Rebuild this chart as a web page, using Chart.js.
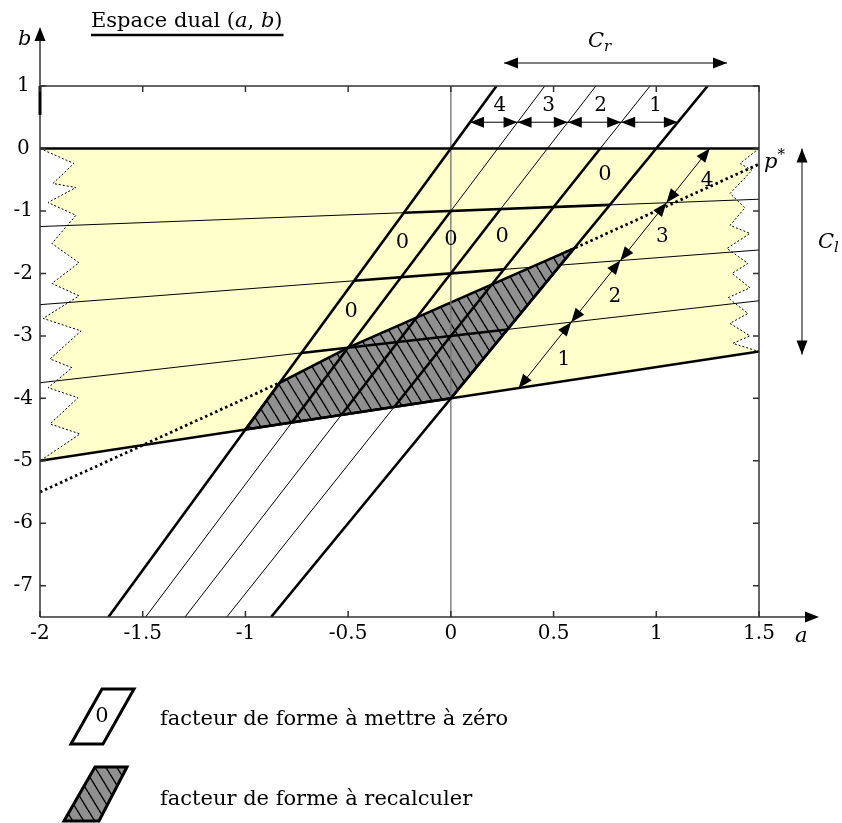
<!DOCTYPE html>
<html>
<head>
<meta charset="utf-8">
<script src="https://cdn.jsdelivr.net/npm/chart.js@4.4.1/dist/chart.umd.min.js"></script>
<style>
  html, body { margin: 0; padding: 0; background: #fff; }
</style>
</head>
<body>
<canvas id="grafico" width="842" height="823"></canvas>
<script>
// droites de l'espace dual : b = pente * a + ordonnee
const pentesObliques = [4.5, 4.375, 4.25, 4.125, 4]
const ordonneesObliques = [0, -1, -2, -3, -4]
const pentesFaisceau = [0, 0.125, 0.25, 0.375, 0.5]
const ordonneesFaisceau = [0, -1, -2, -3, -4]
const penteP = 1.5
const ordonneeP = -2.5

const ticksA = [-2, -1.5, -1, -0.5, 0, 0.5, 1, 1.5]
const ticksB = [1, 0, -1, -2, -3, -4, -5, -6, -7]

// cellules [oblique, faisceau] marquées 0
const cellulesZero = [[3, 0], [0, 1], [1, 1], [2, 1], [0, 2]]
// segments épais : [oblique, faisceau début, faisceau fin]
const obliquesEpais = [[1, 4, 1], [2, 4, 1], [3, 4, 0]]
// segments épais : [faisceau, oblique début, oblique fin]
const faisceauEpais = [[1, 0, 4], [2, 0, 3], [3, 0, 4]]

// zigzags : écart en a depuis le bord, et b
const zigGaucheDa = [0, 0.165, 0.063, 0.175, 0.039, 0.175, 0.058, 0.19, 0.058, 0.19, 0.015, 0.2, 0.049, 0.156, 0.039, 0.185, 0.049, 0.195, 0]
const zigGaucheB = [0, -0.24, -0.56, -0.625, -0.865, -1.07, -1.52, -1.83, -2.16, -2.36, -2.72, -2.92, -3.37, -3.51, -3.83, -3.99, -4.41, -4.57, -5]
const zigDroitDa = [0, -0.092, -0.034, -0.141, -0.068, -0.141, -0.044, -0.156, -0.054, -0.131, -0.044, -0.151, -0.054, -0.141, -0.044, -0.127, 0]
const zigDroitB = [0, -0.24, -0.35, -0.72, -0.95, -1.23, -1.36, -1.6, -1.84, -2.0, -2.23, -2.39, -2.64, -2.8, -3.0, -3.12, -3.25]

// chaîne de flèches 1..4 : a du pied (sur le faisceau 4) et de la tête (sur le faisceau 0)
const chaineA = [0.33, 1.26]
const bCotesHaut = 0.42
const aMin = -2, aMax = 1.5, bMin = -7.5, bMax = 1

function aSurOblique(i, b) { return (b - ordonneesObliques[i]) / pentesObliques[i] }
function bSurFaisceau(j, a) { return pentesFaisceau[j] * a + ordonneesFaisceau[j] }
function interOF(i, j) {
    const a = (ordonneesFaisceau[j] - ordonneesObliques[i]) / (pentesObliques[i] - pentesFaisceau[j])
    return [a, pentesObliques[i] * a + ordonneesObliques[i]]
}
function interOP(i) {
    const a = (ordonneeP - ordonneesObliques[i]) / (pentesObliques[i] - penteP)
    return [a, penteP * a + ordonneeP]
}

const canvas = document.getElementById('grafico')
const ctx = canvas.getContext('2d')

function motifHachure() {
    const c = document.createElement('canvas')
    c.width = 11
    c.height = 18
    const g = c.getContext('2d')
    g.fillStyle = '#909090'
    g.fillRect(0, 0, 11, 18)
    g.strokeStyle = '#000'
    g.lineWidth = 1.4
    for (const dx of [-11, 0, 11]) {
        g.beginPath()
        g.moveTo(dx, 0)
        g.lineTo(dx + 11, 18)
        g.stroke()
    }
    return ctx.createPattern(c, 'repeat')
}

const datasets = []
function ajoute(points, opts) {
    datasets.push(Object.assign({
        data: points.map(p => ({ x: p[0], y: p[1] })),
        showLine: true,
        pointRadius: 0,
        borderColor: '#000',
        borderWidth: 1,
        fill: false
    }, opts))
}

// zone jaune
const jaune = [[aMin, 0], [aMax, 0]]
zigDroitDa.forEach((d, k) => jaune.push([aMax + d, zigDroitB[k]]))
for (let k = zigGaucheDa.length - 1; k >= 0; k--) jaune.push([aMin + zigGaucheDa[k], zigGaucheB[k]])
ajoute(jaune, { borderWidth: 0, backgroundColor: 'rgb(255,255,204)', fill: 'shape', order: 7 })
ajoute(zigGaucheDa.map((d, k) => [aMin + d, zigGaucheB[k]]), { borderDash: [2, 2], order: 6 })
ajoute(zigDroitDa.map((d, k) => [aMax + d, zigDroitB[k]]), { borderDash: [2, 2], order: 6 })

// droites fines
for (let i = 0; i < 5; i++) ajoute([[aSurOblique(i, bMin), bMin], [aSurOblique(i, bMax), bMax]], { order: 5 })
for (let j = 1; j < 4; j++) ajoute([[aMin, bSurFaisceau(j, aMin)], [aMax, bSurFaisceau(j, aMax)]], { order: 5 })

// droite p*
ajoute([[aMin, penteP * aMin + ordonneeP], [aMax, penteP * aMax + ordonneeP]], { borderWidth: 2.8, borderDash: [2.5, 3], order: 4 })

// zone hachurée
const zoneH = [interOF(0, 4), interOP(0), interOF(1, 3), interOP(4), interOF(4, 4), interOF(0, 4)]
ajoute(zoneH, { borderWidth: 2.6, backgroundColor: motifHachure(), fill: 'shape', order: 3 })

// axe a = 0
ajoute([[0, bMin], [0, bMax]], { borderColor: '#6f6f6f', borderWidth: 1.3, order: 2 })

// droites épaisses
const epais = { borderWidth: 2.6, order: 1 }
for (const i of [0, 4]) ajoute([[aSurOblique(i, bMin), bMin], [aSurOblique(i, bMax), bMax]], epais)
for (const j of [0, 4]) ajoute([[aMin, bSurFaisceau(j, aMin)], [aMax, bSurFaisceau(j, aMax)]], epais)
obliquesEpais.forEach(([i, j1, j2]) => ajoute([interOF(i, j1), interOF(i, j2)], epais))
faisceauEpais.forEach(([j, i1, i2]) => ajoute([interOF(i1, j), interOF(i2, j)], epais))

const serif = "'DejaVu Serif', serif"

function fleche(g, x0, y0, x1, y1) {
    // pointe en (x1, y1)
    const ang = Math.atan2(y1 - y0, x1 - x0)
    const L = 14, W = 5.5
    g.beginPath()
    g.moveTo(x1, y1)
    g.lineTo(x1 - L * Math.cos(ang) + W * Math.sin(ang), y1 - L * Math.sin(ang) - W * Math.cos(ang))
    g.lineTo(x1 - L * Math.cos(ang) - W * Math.sin(ang), y1 - L * Math.sin(ang) + W * Math.cos(ang))
    g.closePath()
    g.fill()
}
function doubleFleche(g, x0, y0, x1, y1) {
    g.beginPath()
    g.moveTo(x0, y0)
    g.lineTo(x1, y1)
    g.stroke()
    fleche(g, x0, y0, x1, y1)
    fleche(g, x1, y1, x0, y0)
}
function texte(g, morceaux, x, y) {
    // morceaux : [texte, italique, taille, decalage vertical]
    let cx = x
    morceaux.forEach(([t, it, taille, dy]) => {
        g.font = (it ? 'italic ' : '') + taille + 'px ' + serif
        g.fillText(t, cx, y + (dy || 0))
        cx += g.measureText(t).width
    })
    return cx
}

const decor = {
    id: 'decor',
    afterDatasetsDraw(chart) {
        const g = chart.ctx
        const xs = chart.scales.x, ys = chart.scales.y
        const px = v => xs.getPixelForValue(v)
        const py = v => ys.getPixelForValue(v)
        g.save()
        g.fillStyle = '#000'
        g.strokeStyle = '#000'

        // cadre et axes
        g.lineWidth = 1.5
        g.strokeStyle = '#333'
        g.beginPath()
        g.moveTo(px(aMin), py(bMax))
        g.lineTo(px(aMax), py(bMax))
        g.lineTo(px(aMax), py(bMin))
        g.stroke()
        g.beginPath()
        g.moveTo(px(aMin), py(bMin))
        g.lineTo(px(aMin), 36)
        g.moveTo(px(aMin), py(bMin))
        g.lineTo(806, py(bMin))
        g.stroke()
        g.fillStyle = '#000'
        fleche(g, px(aMin), 60, px(aMin), 27)
        fleche(g, 780, py(bMin), 819, py(bMin))
        g.lineWidth = 3
        g.strokeStyle = '#000'
        g.beginPath()
        g.moveTo(px(aMin), py(bMax))
        g.lineTo(px(aMin), py(bMax) + 29)
        g.stroke()

        // graduations vers l'intérieur
        g.lineWidth = 1.5
        g.strokeStyle = '#333'
        g.beginPath()
        ticksB.forEach(b => {
            g.moveTo(px(aMin), py(b)); g.lineTo(px(aMin) + 6, py(b))
            g.moveTo(px(aMax), py(b)); g.lineTo(px(aMax) - 6, py(b))
        })
        ticksA.forEach(a => {
            g.moveTo(px(a), py(bMin)); g.lineTo(px(a), py(bMin) - 6)
            g.moveTo(px(a), py(bMax)); g.lineTo(px(a), py(bMax) + 6)
        })
        g.stroke()

        g.fillStyle = '#000'
        g.strokeStyle = '#000'
        g.textBaseline = 'alphabetic'
        g.textAlign = 'left'

        // noms des axes et titre
        texte(g, [['b', true, 21]], 18, 45)
        texte(g, [['a', true, 21]], 795, 642)
        const fin = texte(g, [['Espace dual (', false, 21], ['a', true, 21], [', ', false, 21], ['b', true, 21], [')', false, 21]], 91, 27)
        g.lineWidth = 2.6
        g.beginPath()
        g.moveTo(91, 35)
        g.lineTo(fin + 1, 35)
        g.stroke()

        // cellules 0
        g.textAlign = 'center'
        g.textBaseline = 'middle'
        g.font = '21px ' + serif
        cellulesZero.forEach(([i, j]) => {
            const c = [interOF(i, j), interOF(i + 1, j), interOF(i, j + 1), interOF(i + 1, j + 1)]
            const a = c.reduce((s, p) => s + p[0], 0) / 4
            const b = c.reduce((s, p) => s + p[1], 0) / 4
            g.fillText('0', px(a), py(b) - 3)
        })

        // cotes en haut : 4 3 2 1
        g.font = '20px ' + serif
        g.lineWidth = 1
        const yc = py(bCotesHaut)
        for (let i = 0; i < 4; i++) {
            const x0 = px(aSurOblique(i, bCotesHaut)), x1 = px(aSurOblique(i + 1, bCotesHaut))
            doubleFleche(g, x0, yc, x1, yc)
            g.fillText(String(4 - i), (x0 + x1) / 2 + 6, yc - 16)
        }

        // chaîne de flèches à droite
        const bPied = bSurFaisceau(4, chaineA[0])
        const pc = (0 - bPied) / (chaineA[1] - chaineA[0])
        const cc = bPied - pc * chaineA[0]
        const pts = [4, 3, 2, 1, 0].map(j => {
            const a = (ordonneesFaisceau[j] - cc) / (pc - pentesFaisceau[j])
            return [px(a), py(pc * a + cc)]
        })
        for (let k = 0; k < 4; k++) {
            const [x0, y0] = pts[k], [x1, y1] = pts[k + 1]
            doubleFleche(g, x0, y0, x1, y1)
            g.fillText(String(k + 1), (x0 + x1) / 2 + 19, (y0 + y1) / 2 + 5)
        }

        // C_r et C_l
        doubleFleche(g, 504, 63, 727, 63)
        doubleFleche(g, 802, py(0), 802, py(-3.3))
        g.textAlign = 'left'
        g.textBaseline = 'alphabetic'
        texte(g, [['C', true, 21], ['r', true, 15, 4]], 588, 47)
        texte(g, [['C', true, 21], ['l', true, 15, 4]], 818, 248)
        texte(g, [['p', true, 21], ['*', false, 15, -9]], 764, 168)

        // légende
        g.lineWidth = 3
        g.beginPath()
        g.moveTo(102, 689); g.lineTo(134, 689); g.lineTo(103, 744); g.lineTo(71, 744); g.closePath()
        g.stroke()
        g.textAlign = 'center'
        g.textBaseline = 'middle'
        g.font = '21px ' + serif
        g.fillText('0', 102, 717)
        g.beginPath()
        g.moveTo(95, 767); g.lineTo(127, 767); g.lineTo(99, 821); g.lineTo(64, 821); g.closePath()
        g.fillStyle = motifHachure()
        g.fill()
        g.stroke()
        g.fillStyle = '#000'
        g.textAlign = 'left'
        g.textBaseline = 'alphabetic'
        g.font = '21px ' + serif
        g.fillText('facteur de forme à mettre à zéro', 160, 725)
        g.fillText('facteur de forme à recalculer', 160, 805)
        g.restore()
    }
}

new Chart(ctx, {
    type: 'scatter',
    data: { datasets: datasets },
    options: {
        responsive: false,
        animation: false,
        layout: { padding: { top: 86, right: 83, left: 0, bottom: 0 } },
        plugins: {
            legend: { display: false },
            tooltip: { enabled: false }
        },
        scales: {
            x: {
                type: 'linear',
                min: aMin,
                max: aMax,
                afterFit: s => { s.height = 206 },
                afterBuildTicks: s => { s.ticks = ticksA.map(v => ({ value: v })) },
                grid: { display: false, drawTicks: false },
                border: { display: false },
                ticks: {
                    padding: 5,
                    color: '#000',
                    font: { family: serif, size: 20 },
                    callback: v => String(v)
                }
            },
            y: {
                type: 'linear',
                min: bMin,
                max: bMax,
                afterFit: s => { s.width = 40 },
                afterBuildTicks: s => { s.ticks = ticksB.map(v => ({ value: v })) },
                grid: { display: false, drawTicks: false },
                border: { display: false },
                ticks: {
                    padding: 7,
                    crossAlign: 'center',
                    color: '#000',
                    font: { family: serif, size: 20 },
                    callback: v => String(v)
                }
            }
        }
    },
    plugins: [decor]
})
</script>
</body>
</html>
